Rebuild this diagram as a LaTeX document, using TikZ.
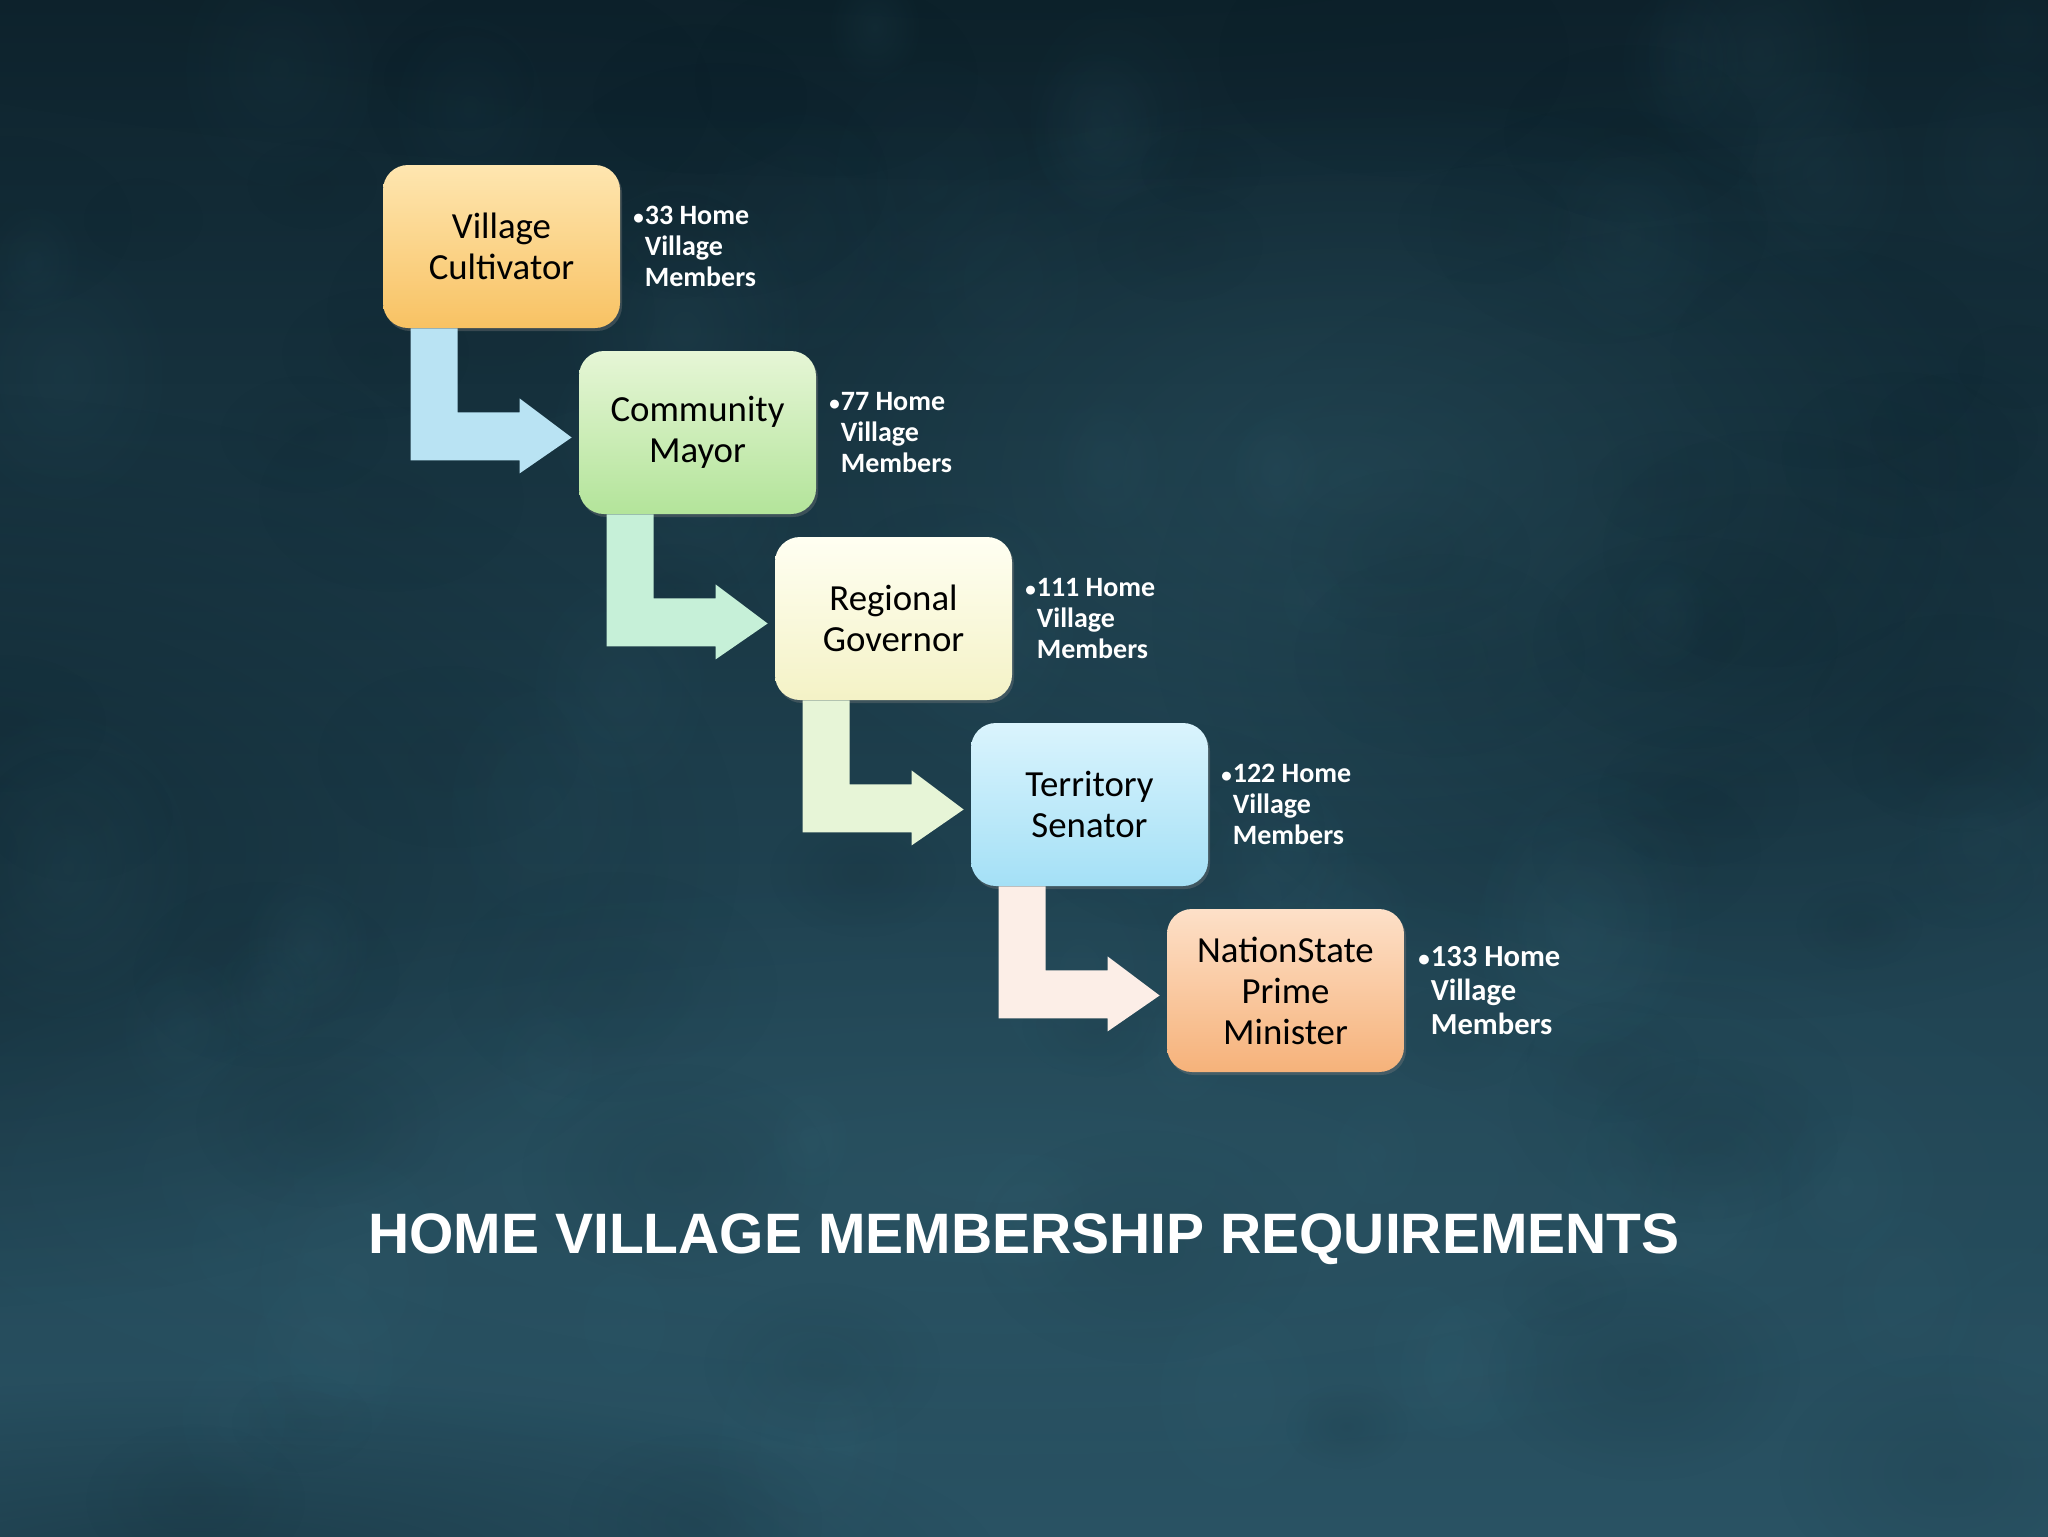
\documentclass[tikz,border=0pt]{standalone}
\usepackage{fontspec}
\setmainfont{Carlito}
\newfontfamily\titlefont{Liberation Sans}
\usepackage{tikz}
\usetikzlibrary{calc, shadows, fadings, positioning}

\definecolor{bgmid}{HTML}{1D3E4C}
\definecolor{bgtop}{HTML}{0E232D}
\definecolor{bglow}{HTML}{295263}
\definecolor{bgdark}{HTML}{0B1E27}
\definecolor{bglight}{HTML}{3A6B7B}
\definecolor{gold1}{HTML}{FEE6B0}
\definecolor{gold2}{HTML}{F8C263}
\definecolor{green1}{HTML}{E6F6D6}
\definecolor{green2}{HTML}{B3E49A}
\definecolor{cream1}{HTML}{FFFFF2}
\definecolor{cream2}{HTML}{F4F2C6}
\definecolor{blue1}{HTML}{DAF4FD}
\definecolor{blue2}{HTML}{A4E0F6}
\definecolor{peach1}{HTML}{FDE0C8}
\definecolor{peach2}{HTML}{F6B27A}
\definecolor{arrA}{HTML}{B9E3F3}
\definecolor{arrB}{HTML}{C6F0D8}
\definecolor{arrC}{HTML}{E7F5D7}
\definecolor{arrD}{HTML}{FCEEE7}

\tikzfading[name=blob, inner color=transparent!0, outer color=transparent!100]

\newcommand{\dotmark}{\llap{\scalebox{0.75}{•}\hspace{0.5pt}}}

\tikzset{every picture/.style={x=0.5pt, y=-0.5pt},
         rank/.style 2 args={rounded corners=12.5pt, minimum width=118.5pt, minimum height=81.5pt,
                      align=center, inner sep=0pt, font=\fontsize{18.4}{20.5}\selectfont,
                      top color=#1, bottom color=#2,
                      drop shadow={opacity=0.35, shadow xshift=1pt, shadow yshift=-1.5pt}},
         side/.style={align=left, inner sep=0pt, text=white,
                      font=\bfseries\fontsize{14}{15.5}\selectfont},
         bend/.style={fill=#1, draw=none}
        }

\begin{document}
\begin{tikzpicture}
\useasboundingbox (0,0) rectangle (2048,1536);
%Background
\shade[top color=bgtop, bottom color=bglow, middle color=bgmid] (0,0) rectangle (2048,1536);
\fill[bgdark, opacity=0.55, path fading=blob] (-100,850) ellipse (420pt and 230pt);
\fill[bgdark, opacity=0.45, path fading=blob] (1750,620) ellipse (300pt and 200pt);
\fill[bgdark, opacity=0.5, path fading=blob] (1024,-60) ellipse (700pt and 120pt);
\fill[bgdark, opacity=0.4, path fading=blob] (200,1560) ellipse (400pt and 90pt);
\fill[bglight, opacity=0.3, path fading=blob] (1350,480) ellipse (330pt and 200pt);
\fill[bglight, opacity=0.25, path fading=blob] (1000,1180) ellipse (600pt and 160pt);
\pgfmathsetseed{11}
\foreach \k in {1,...,120}{
  \pgfmathsetmacro{\bx}{1024+1024*rand}
  \pgfmathsetmacro{\by}{768+768*rand}
  \pgfmathsetmacro{\br}{30+60*rnd}
  \pgfmathsetmacro{\bo}{0.05+0.1*rnd}
  \ifodd\k
    \fill[bgdark, opacity=\bo, path fading=blob] (\bx,\by) ellipse (\br pt and 0.7*\br pt);
  \else
    \fill[bglight, opacity=\bo, path fading=blob] (\bx,\by) ellipse (0.8*\br pt and \br pt);
  \fi
}

%Ranks
\node[rank={gold1}{gold2}] (b1) at (501.5,246.5) {Village\\Cultivator};
\node[rank={green1}{green2}] (b2) at (697.5,432.5) {Community\\Mayor};
\node[rank={cream1}{cream2}] (b3) at (893.5,618.5) {Regional\\Governor};
\node[rank={blue1}{blue2}] (b4) at (1089.5,804.5) {Territory\\Senator};
\node[rank={peach1}{peach2}] (b5) at (1285.5,990.5) {NationState\\Prime\\Minister};

%Members needed
\node[side, right=12pt of b1] (t1) {\dotmark 33 Home\\Village\\Members};
\node[side, right=12pt of b2] (t2) {\dotmark 77 Home\\Village\\Members};
\node[side, right=12pt of b3] (t3) {\dotmark 111 Home\\Village\\Members};
\node[side, right=12pt of b4] (t4) {\dotmark 122 Home\\Village\\Members};
\node[side, right=13pt of b5, font=\bfseries\fontsize{15.3}{17}\selectfont] (t5) {\dotmark 133 Home\\Village\\Members};

%Bent arrows
\foreach \a/\b/\c in {b1/b2/arrA, b2/b3/arrB, b3/b4/arrC, b4/b5/arrD}{
  \fill[bend=\c] ([shift={(28,0)}]\a.south west) -- ([shift={(75,0)}]\a.south west)
    -- ([shift={(75,84)}]\a.south west) -- ([shift={(137,84)}]\a.south west)
    -- ([shift={(137,70)}]\a.south west) -- ([shift={(-7,5)}]\b.west)
    -- ([shift={(137,145)}]\a.south west) -- ([shift={(137,132)}]\a.south west)
    -- ([shift={(28,132)}]\a.south west) -- cycle;
}

\node[text=white, font=\titlefont\bfseries\fontsize{28.5}{34}\selectfont] (head) at (1024,1239)
  {HOME VILLAGE MEMBERSHIP REQUIREMENTS};
\end{tikzpicture}
\end{document}
